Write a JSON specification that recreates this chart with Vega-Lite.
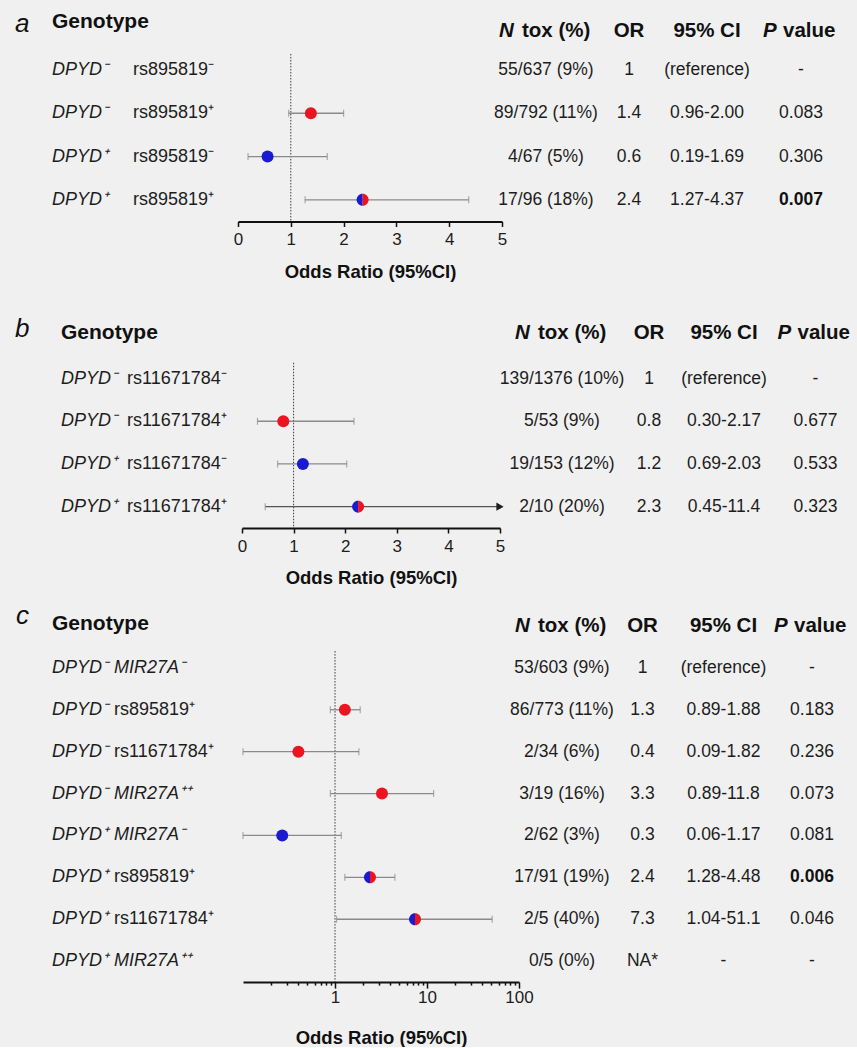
{
  "$schema": "https://vega.github.io/schema/vega-lite/v6.json",
  "background": "#f0f0f0",
  "padding": {"left": 14, "top": 5, "right": 0, "bottom": 0},
  "config": {
    "view": {"stroke": null},
    "font": "Liberation Sans",
    "axis": {"labelFont": "Liberation Sans", "titleFont": "Liberation Sans", "grid": false, "labelFlush": false, "labelOverlap": false, "domainColor": "#111111", "domainWidth": 2, "tickColor": "#111111", "tickWidth": 1.5, "tickSize": 5, "labelFontSize": 17, "labelColor": "#1d1d1d", "titleFontSize": 18.5, "titleFontWeight": "bold", "titleColor": "#111111"}
  },
  "datasets": {
    "a": [
      {"row": 0, "letter": "a", "g1": "Genotype", "nlab": "N", "ntox": "tox (%)", "or": "OR", "ci": "95% CI", "plab": "P", "p": "value", "carrier": "header"},
      {"row": 1, "g1": "DPYD\u207b", "g2": "rs895819\u207b", "ntox": "55/637 (9%)", "or": "1", "ci": "(reference)", "p": "-", "carrier": "reference"},
      {"row": 2, "g1": "DPYD\u207b", "g2": "rs895819\u207a", "ntox": "89/792 (11%)", "or": "1.4", "ci": "0.96-2.00", "p": "0.083", "est": 1.38, "lo": 0.96, "hi": 2.0, "carrier": "other variant"},
      {"row": 3, "g1": "DPYD\u207a", "g2": "rs895819\u207b", "ntox": "4/67 (5%)", "or": "0.6", "ci": "0.19-1.69", "p": "0.306", "est": 0.56, "lo": 0.19, "hi": 1.69, "carrier": "DPYD variant"},
      {"row": 4, "g1": "DPYD\u207a", "g2": "rs895819\u207a", "ntox": "17/96 (18%)", "or": "2.4", "ci": "1.27-4.37", "p": "0.007", "est": 2.36, "lo": 1.27, "hi": 4.37, "carrier": "both"}
    ],
    "b": [
      {"row": 0, "letter": "b", "g1": "Genotype", "nlab": "N", "ntox": "tox (%)", "or": "OR", "ci": "95% CI", "plab": "P", "p": "value", "carrier": "header"},
      {"row": 1, "g1": "DPYD\u207b", "g2": "rs11671784\u207b", "ntox": "139/1376 (10%)", "or": "1", "ci": "(reference)", "p": "-", "carrier": "reference"},
      {"row": 2, "g1": "DPYD\u207b", "g2": "rs11671784\u207a", "ntox": "5/53 (9%)", "or": "0.8", "ci": "0.30-2.17", "p": "0.677", "est": 0.8, "lo": 0.3, "hi": 2.17, "carrier": "other variant"},
      {"row": 3, "g1": "DPYD\u207a", "g2": "rs11671784\u207b", "ntox": "19/153 (12%)", "or": "1.2", "ci": "0.69-2.03", "p": "0.533", "est": 1.18, "lo": 0.69, "hi": 2.03, "carrier": "DPYD variant"},
      {"row": 4, "g1": "DPYD\u207a", "g2": "rs11671784\u207a", "ntox": "2/10 (20%)", "or": "2.3", "ci": "0.45-11.4", "p": "0.323", "est": 2.25, "lo": 0.45, "hi": 11.4, "carrier": "both"}
    ],
    "c": [
      {"row": 0, "letter": "c", "g1": "Genotype", "nlab": "N", "ntox": "tox (%)", "or": "OR", "ci": "95% CI", "plab": "P", "p": "value", "carrier": "header"},
      {"row": 1, "g1": "DPYD\u207b", "g2": "MIR27A\u207b", "ntox": "53/603 (9%)", "or": "1", "ci": "(reference)", "p": "-", "carrier": "reference"},
      {"row": 2, "g1": "DPYD\u207b", "g2": "rs895819\u207a", "ntox": "86/773 (11%)", "or": "1.3", "ci": "0.89-1.88", "p": "0.183", "est": 1.28, "lo": 0.89, "hi": 1.88, "carrier": "other variant"},
      {"row": 3, "g1": "DPYD\u207b", "g2": "rs11671784\u207a", "ntox": "2/34 (6%)", "or": "0.4", "ci": "0.09-1.82", "p": "0.236", "est": 0.4, "lo": 0.09, "hi": 1.82, "carrier": "other variant"},
      {"row": 4, "g1": "DPYD\u207b", "g2": "MIR27A\u207a\u207a", "ntox": "3/19 (16%)", "or": "3.3", "ci": "0.89-11.8", "p": "0.073", "est": 3.24, "lo": 0.89, "hi": 11.8, "carrier": "other variant"},
      {"row": 5, "g1": "DPYD\u207a", "g2": "MIR27A\u207b", "ntox": "2/62 (3%)", "or": "0.3", "ci": "0.06-1.17", "p": "0.081", "est": 0.267, "lo": 0.06, "hi": 1.17, "carrier": "DPYD variant"},
      {"row": 6, "g1": "DPYD\u207a", "g2": "rs895819\u207a", "ntox": "17/91 (19%)", "or": "2.4", "ci": "1.28-4.48", "p": "0.006", "est": 2.4, "lo": 1.28, "hi": 4.48, "carrier": "both"},
      {"row": 7, "g1": "DPYD\u207a", "g2": "rs11671784\u207a", "ntox": "2/5 (40%)", "or": "7.3", "ci": "1.04-51.1", "p": "0.046", "est": 7.41, "lo": 1.04, "hi": 51.1, "carrier": "both"},
      {"row": 8, "g1": "DPYD\u207a", "g2": "MIR27A\u207a\u207a", "ntox": "0/5 (0%)", "or": "NA*", "ci": "-", "p": "-", "carrier": "none"}
    ]
  },
  "spacing": 14,
  "vconcat": [
    {
      "spacing": 33.5,
      "vconcat": [
        {
          "bounds": "flush",
          "spacing": 0,
          "hconcat": [
            {
              "width": 223, "height": 216.5,
              "data": {"name": "a"},
              "encoding": {"y": {"field": "row", "type": "quantitative", "scale": {"domain": [-0.5, 4.5], "reverse": true, "nice": false, "zero": false}, "axis": null}},
              "layer": [
                {"transform": [{"filter": "datum.row > 0"}],
                 "mark": {"type": "text", "align": "left", "fontStyle": "italic", "fontSize": 18, "color": "#1d1d1d"},
                 "encoding": {"x": {"datum": "g1", "type": "nominal", "scale": {"type": "point", "domain": ["g1", "g2", "end"], "padding": 0.3765, "align": 0.6066}, "axis": null}, "text": {"field": "g1"}}},
                {"transform": [{"filter": "datum.row > 0 && indexof(datum.g2, 'MIR') === 0"}],
                 "mark": {"type": "text", "align": "left", "fontStyle": "italic", "fontSize": 18, "color": "#1d1d1d"},
                 "encoding": {"x": {"datum": "g2", "type": "nominal"}, "text": {"field": "g2"}}},
                {"transform": [{"filter": "datum.row > 0 && indexof(datum.g2, 'MIR') !== 0"}],
                 "mark": {"type": "text", "align": "left", "fontSize": 18, "color": "#1d1d1d"},
                 "encoding": {"x": {"datum": "g2", "type": "nominal"}, "text": {"field": "g2"}}},
                {"transform": [{"filter": "datum.row === 0"}],
                 "mark": {"type": "text", "align": "left", "fontWeight": "bold", "fontSize": 21, "dy": -4.5, "color": "#111111"},
                 "encoding": {"x": {"datum": "g1", "type": "nominal"}, "text": {"field": "g1"}}},
                {"transform": [{"filter": "datum.row === 0"}],
                 "mark": {"type": "text", "align": "left", "fontStyle": "italic", "fontSize": 26, "dx": -37, "dy": -2.5, "color": "#111111"},
                 "encoding": {"x": {"datum": "g1", "type": "nominal"}, "text": {"field": "letter"}}}
              ]
            },
            {
              "width": 264, "height": 216.5,
              "data": {"name": "a"},
              "encoding": {"y": {"field": "row", "type": "quantitative", "scale": {"domain": [-0.5, 4.5], "reverse": true, "nice": false, "zero": false}, "axis": null}},
              "layer": [
                {"transform": [{"filter": "datum.row === 0"}],
                 "mark": {"type": "rule", "color": "#3a3a3a", "strokeWidth": 1, "strokeDash": [1.5, 1.5]},
                 "encoding": {
                   "x": {"datum": 1, "type": "quantitative", "scale": {"domain": [0, 5], "nice": false, "zero": false, "clamp": true},
                         "axis": {"values": [0, 1, 2, 3, 4, 5], "format": "d", "title": "Odds Ratio (95%CI)", "labelPadding": 5, "titlePadding": 14.6}},
                   "y": {"datum": 0.63, "type": "quantitative"}, "y2": {"datum": 4.5}}},
                {"transform": [{"filter": "isValid(datum.lo)"}],
                 "mark": {"type": "rule", "color": "#8a8a8a", "strokeWidth": 1.3},
                 "encoding": {"x": {"field": "lo", "type": "quantitative"}, "x2": {"field": "hi"}}},
                {"transform": [{"filter": "isValid(datum.lo)"}],
                 "mark": {"type": "tick", "orient": "vertical", "size": 7, "thickness": 1.2, "color": "#8a8a8a"},
                 "encoding": {"x": {"field": "lo", "type": "quantitative"}}},
                {"transform": [{"filter": "isValid(datum.hi) && datum.hi <= 5"}],
                 "mark": {"type": "tick", "orient": "vertical", "size": 7, "thickness": 1.2, "color": "#8a8a8a"},
                 "encoding": {"x": {"field": "hi", "type": "quantitative"}}},
                {"transform": [{"filter": "datum.carrier === 'DPYD variant' || datum.carrier === 'other variant'"}],
                 "mark": {"type": "point", "filled": true, "shape": "circle", "size": 144, "opacity": 1},
                 "encoding": {"x": {"field": "est", "type": "quantitative"},
                              "color": {"field": "carrier", "type": "nominal", "scale": {"domain": ["DPYD variant", "other variant"], "range": ["#1a1ad0", "#ec1420"]}, "legend": null}}},
                {"transform": [{"filter": "datum.carrier === 'both'"}],
                 "mark": {"type": "point", "filled": true, "shape": "M0,-1A1,1,0,0,0,0,1Z", "size": 144, "opacity": 1, "color": "#1a1ad0"},
                 "encoding": {"x": {"field": "est", "type": "quantitative"}}},
                {"transform": [{"filter": "datum.carrier === 'both'"}],
                 "mark": {"type": "point", "filled": true, "shape": "M0,-1A1,1,0,0,1,0,1Z", "size": 144, "opacity": 1, "color": "#ec1420"},
                 "encoding": {"x": {"field": "est", "type": "quantitative"}}}
              ]
            },
            {
              "width": 88, "height": 216.5,
              "data": {"name": "a"},
              "encoding": {"y": {"field": "row", "type": "quantitative", "scale": {"domain": [-0.5, 4.5], "reverse": true, "nice": false, "zero": false}, "axis": null}},
              "layer": [
                {"transform": [{"filter": "datum.row > 0"}],
                 "mark": {"type": "text", "fontSize": 17.5, "color": "#1d1d1d"}, "encoding": {"text": {"field": "ntox"}}},
                {"transform": [{"filter": "datum.row === 0"}],
                 "mark": {"type": "text", "align": "left", "fontSize": 20.5, "fontWeight": "bold", "fontStyle": "italic", "dx": -47, "dy": 4.5, "color": "#111111"},
                 "encoding": {"text": {"field": "nlab"}}},
                {"transform": [{"filter": "datum.row === 0"}],
                 "mark": {"type": "text", "align": "left", "fontSize": 20.5, "fontWeight": "bold", "dx": -24, "dy": 4.5, "color": "#111111"},
                 "encoding": {"text": {"field": "ntox"}}}
              ]
            },
            {
              "width": 78, "height": 216.5,
              "data": {"name": "a"},
              "encoding": {"y": {"field": "row", "type": "quantitative", "scale": {"domain": [-0.5, 4.5], "reverse": true, "nice": false, "zero": false}, "axis": null}},
              "layer": [
                {"transform": [{"filter": "datum.row > 0"}],
                 "mark": {"type": "text", "fontSize": 17.5, "color": "#1d1d1d"}, "encoding": {"text": {"field": "or"}}},
                {"transform": [{"filter": "datum.row === 0"}],
                 "mark": {"type": "text", "fontSize": 20.5, "fontWeight": "bold", "dy": 4.5, "color": "#111111"},
                 "encoding": {"text": {"field": "or"}}}
              ]
            },
            {
              "width": 78, "height": 216.5,
              "data": {"name": "a"},
              "encoding": {"y": {"field": "row", "type": "quantitative", "scale": {"domain": [-0.5, 4.5], "reverse": true, "nice": false, "zero": false}, "axis": null}},
              "layer": [
                {"transform": [{"filter": "datum.row > 0"}],
                 "mark": {"type": "text", "fontSize": 17.5, "color": "#1d1d1d"}, "encoding": {"text": {"field": "ci"}}},
                {"transform": [{"filter": "datum.row === 0"}],
                 "mark": {"type": "text", "fontSize": 20.5, "fontWeight": "bold", "dy": 4.5, "color": "#111111"},
                 "encoding": {"text": {"field": "ci"}}}
              ]
            },
            {
              "width": 110, "height": 216.5,
              "data": {"name": "a"},
              "encoding": {"y": {"field": "row", "type": "quantitative", "scale": {"domain": [-0.5, 4.5], "reverse": true, "nice": false, "zero": false}, "axis": null}},
              "layer": [
                {"transform": [{"filter": "datum.row > 0 && !(toNumber(datum.p) < 0.01)"}],
                 "mark": {"type": "text", "fontSize": 17.5, "color": "#1d1d1d"}, "encoding": {"text": {"field": "p"}}},
                {"transform": [{"filter": "datum.row > 0 && toNumber(datum.p) < 0.01"}],
                 "mark": {"type": "text", "fontSize": 17.5, "fontWeight": "bold", "color": "#111111"}, "encoding": {"text": {"field": "p"}}},
                {"transform": [{"filter": "datum.row === 0"}],
                 "mark": {"type": "text", "align": "left", "fontSize": 20.5, "fontWeight": "bold", "fontStyle": "italic", "dx": -38, "dy": 4.5, "color": "#111111"},
                 "encoding": {"text": {"field": "plab"}}},
                {"transform": [{"filter": "datum.row === 0"}],
                 "mark": {"type": "text", "align": "left", "fontSize": 20.5, "fontWeight": "bold", "dx": -18, "dy": 4.5, "color": "#111111"},
                 "encoding": {"text": {"field": "p"}}}
              ]
            }
          ]
        },
        {
          "bounds": "flush",
          "spacing": 0,
          "hconcat": [
            {
              "width": 227, "height": 213.5,
              "data": {"name": "b"},
              "encoding": {"y": {"field": "row", "type": "quantitative", "scale": {"domain": [-0.5, 4.5], "reverse": true, "nice": false, "zero": false}, "axis": null}},
              "layer": [
                {"transform": [{"filter": "datum.row > 0"}],
                 "mark": {"type": "text", "align": "left", "fontStyle": "italic", "fontSize": 18, "color": "#1d1d1d"},
                 "encoding": {"x": {"datum": "g1", "type": "nominal", "scale": {"type": "point", "domain": ["g1", "g2", "end"], "padding": 0.7197, "align": 0.4842}, "axis": null}, "text": {"field": "g1"}}},
                {"transform": [{"filter": "datum.row > 0 && indexof(datum.g2, 'MIR') === 0"}],
                 "mark": {"type": "text", "align": "left", "fontStyle": "italic", "fontSize": 18, "color": "#1d1d1d"},
                 "encoding": {"x": {"datum": "g2", "type": "nominal"}, "text": {"field": "g2"}}},
                {"transform": [{"filter": "datum.row > 0 && indexof(datum.g2, 'MIR') !== 0"}],
                 "mark": {"type": "text", "align": "left", "fontSize": 18, "color": "#1d1d1d"},
                 "encoding": {"x": {"datum": "g2", "type": "nominal"}, "text": {"field": "g2"}}},
                {"transform": [{"filter": "datum.row === 0"}],
                 "mark": {"type": "text", "align": "left", "fontWeight": "bold", "fontSize": 21, "dy": -3, "color": "#111111"},
                 "encoding": {"x": {"datum": "g1", "type": "nominal"}, "text": {"field": "g1"}}},
                {"transform": [{"filter": "datum.row === 0"}],
                 "mark": {"type": "text", "align": "left", "fontStyle": "italic", "fontSize": 26, "dx": -46, "dy": -7, "color": "#111111"},
                 "encoding": {"x": {"datum": "g1", "type": "nominal"}, "text": {"field": "letter"}}}
              ]
            },
            {
              "width": 258, "height": 213.5,
              "data": {"name": "b"},
              "encoding": {"y": {"field": "row", "type": "quantitative", "scale": {"domain": [-0.5, 4.5], "reverse": true, "nice": false, "zero": false}, "axis": null}},
              "layer": [
                {"transform": [{"filter": "datum.row === 0"}],
                 "mark": {"type": "rule", "color": "#3a3a3a", "strokeWidth": 1, "strokeDash": [1.5, 1.5]},
                 "encoding": {
                   "x": {"datum": 1, "type": "quantitative", "scale": {"domain": [0, 5], "nice": false, "zero": false, "clamp": true},
                         "axis": {"values": [0, 1, 2, 3, 4, 5], "format": "d", "title": "Odds Ratio (95%CI)", "labelPadding": 5, "titlePadding": 14.6}},
                   "y": {"datum": 0.63, "type": "quantitative"}, "y2": {"datum": 4.5}}},
                {"transform": [{"filter": "isValid(datum.lo) && datum.hi <= 5"}],
                 "mark": {"type": "rule", "color": "#8a8a8a", "strokeWidth": 1.3},
                 "encoding": {"x": {"field": "lo", "type": "quantitative"}, "x2": {"field": "hi"}}},
                {"transform": [{"filter": "isValid(datum.lo) && datum.hi > 5"}],
                 "mark": {"type": "rule", "color": "#555555", "strokeWidth": 1.3},
                 "encoding": {"x": {"field": "lo", "type": "quantitative"}, "x2": {"field": "hi"}}},
                {"transform": [{"filter": "isValid(datum.lo)"}],
                 "mark": {"type": "tick", "orient": "vertical", "size": 7, "thickness": 1.2, "color": "#8a8a8a"},
                 "encoding": {"x": {"field": "lo", "type": "quantitative"}}},
                {"transform": [{"filter": "isValid(datum.hi) && datum.hi <= 5"}],
                 "mark": {"type": "tick", "orient": "vertical", "size": 7, "thickness": 1.2, "color": "#8a8a8a"},
                 "encoding": {"x": {"field": "hi", "type": "quantitative"}}},
                {"transform": [{"filter": "isValid(datum.hi) && datum.hi > 5"}],
                 "mark": {"type": "point", "filled": true, "shape": "triangle-right", "size": 70, "opacity": 1, "color": "#1d1d1d"},
                 "encoding": {"x": {"field": "hi", "type": "quantitative"}}},
                {"transform": [{"filter": "datum.carrier === 'DPYD variant' || datum.carrier === 'other variant'"}],
                 "mark": {"type": "point", "filled": true, "shape": "circle", "size": 144, "opacity": 1},
                 "encoding": {"x": {"field": "est", "type": "quantitative"},
                              "color": {"field": "carrier", "type": "nominal", "scale": {"domain": ["DPYD variant", "other variant"], "range": ["#1a1ad0", "#ec1420"]}, "legend": null}}},
                {"transform": [{"filter": "datum.carrier === 'both'"}],
                 "mark": {"type": "point", "filled": true, "shape": "M0,-1A1,1,0,0,0,0,1Z", "size": 144, "opacity": 1, "color": "#1a1ad0"},
                 "encoding": {"x": {"field": "est", "type": "quantitative"}}},
                {"transform": [{"filter": "datum.carrier === 'both'"}],
                 "mark": {"type": "point", "filled": true, "shape": "M0,-1A1,1,0,0,1,0,1Z", "size": 144, "opacity": 1, "color": "#ec1420"},
                 "encoding": {"x": {"field": "est", "type": "quantitative"}}}
              ]
            },
            {
              "width": 124, "height": 213.5,
              "data": {"name": "b"},
              "encoding": {"y": {"field": "row", "type": "quantitative", "scale": {"domain": [-0.5, 4.5], "reverse": true, "nice": false, "zero": false}, "axis": null}},
              "layer": [
                {"transform": [{"filter": "datum.row > 0"}],
                 "mark": {"type": "text", "fontSize": 17.5, "color": "#1d1d1d"}, "encoding": {"text": {"field": "ntox"}}},
                {"transform": [{"filter": "datum.row === 0"}],
                 "mark": {"type": "text", "align": "left", "fontSize": 20.5, "fontWeight": "bold", "fontStyle": "italic", "dx": -47, "dy": -3, "color": "#111111"},
                 "encoding": {"text": {"field": "nlab"}}},
                {"transform": [{"filter": "datum.row === 0"}],
                 "mark": {"type": "text", "align": "left", "fontSize": 20.5, "fontWeight": "bold", "dx": -24, "dy": -3, "color": "#111111"},
                 "encoding": {"text": {"field": "ntox"}}}
              ]
            },
            {
              "width": 50, "height": 213.5,
              "data": {"name": "b"},
              "encoding": {"y": {"field": "row", "type": "quantitative", "scale": {"domain": [-0.5, 4.5], "reverse": true, "nice": false, "zero": false}, "axis": null}},
              "layer": [
                {"transform": [{"filter": "datum.row > 0"}],
                 "mark": {"type": "text", "fontSize": 17.5, "color": "#1d1d1d"}, "encoding": {"text": {"field": "or"}}},
                {"transform": [{"filter": "datum.row === 0"}],
                 "mark": {"type": "text", "fontSize": 20.5, "fontWeight": "bold", "dy": -3, "color": "#111111"},
                 "encoding": {"text": {"field": "or"}}}
              ]
            },
            {
              "width": 100, "height": 213.5,
              "data": {"name": "b"},
              "encoding": {"y": {"field": "row", "type": "quantitative", "scale": {"domain": [-0.5, 4.5], "reverse": true, "nice": false, "zero": false}, "axis": null}},
              "layer": [
                {"transform": [{"filter": "datum.row > 0"}],
                 "mark": {"type": "text", "fontSize": 17.5, "color": "#1d1d1d"}, "encoding": {"text": {"field": "ci"}}},
                {"transform": [{"filter": "datum.row === 0"}],
                 "mark": {"type": "text", "fontSize": 20.5, "fontWeight": "bold", "dy": -3, "color": "#111111"},
                 "encoding": {"text": {"field": "ci"}}}
              ]
            },
            {
              "width": 83, "height": 213.5,
              "data": {"name": "b"},
              "encoding": {"y": {"field": "row", "type": "quantitative", "scale": {"domain": [-0.5, 4.5], "reverse": true, "nice": false, "zero": false}, "axis": null}},
              "layer": [
                {"transform": [{"filter": "datum.row > 0 && !(toNumber(datum.p) < 0.01)"}],
                 "mark": {"type": "text", "fontSize": 17.5, "color": "#1d1d1d"}, "encoding": {"text": {"field": "p"}}},
                {"transform": [{"filter": "datum.row > 0 && toNumber(datum.p) < 0.01"}],
                 "mark": {"type": "text", "fontSize": 17.5, "fontWeight": "bold", "color": "#111111"}, "encoding": {"text": {"field": "p"}}},
                {"transform": [{"filter": "datum.row === 0"}],
                 "mark": {"type": "text", "align": "left", "fontSize": 20.5, "fontWeight": "bold", "fontStyle": "italic", "dx": -38, "dy": -3, "color": "#111111"},
                 "encoding": {"text": {"field": "plab"}}},
                {"transform": [{"filter": "datum.row === 0"}],
                 "mark": {"type": "text", "align": "left", "fontSize": 20.5, "fontWeight": "bold", "dx": -18, "dy": -3, "color": "#111111"},
                 "encoding": {"text": {"field": "p"}}}
              ]
            }
          ]
        }
      ]
    },
    {
      "bounds": "flush",
      "spacing": 0,
      "hconcat": [
        {
          "width": 228, "height": 377.1,
          "data": {"name": "c"},
          "encoding": {"y": {"field": "row", "type": "quantitative", "scale": {"domain": [-0.5, 8.5], "reverse": true, "nice": false, "zero": false}, "axis": null}},
          "layer": [
            {"transform": [{"filter": "datum.row > 0"}],
             "mark": {"type": "text", "align": "left", "fontStyle": "italic", "fontSize": 18, "color": "#1d1d1d"},
             "encoding": {"x": {"datum": "g1", "type": "nominal", "scale": {"type": "point", "domain": ["g1", "g2", "end"], "padding": 0.8387, "align": 0.3558}, "axis": null}, "text": {"field": "g1"}}},
            {"transform": [{"filter": "datum.row > 0 && indexof(datum.g2, 'MIR') === 0"}],
             "mark": {"type": "text", "align": "left", "fontStyle": "italic", "fontSize": 18, "color": "#1d1d1d"},
             "encoding": {"x": {"datum": "g2", "type": "nominal"}, "text": {"field": "g2"}}},
            {"transform": [{"filter": "datum.row > 0 && indexof(datum.g2, 'MIR') !== 0"}],
             "mark": {"type": "text", "align": "left", "fontSize": 18, "color": "#1d1d1d"},
             "encoding": {"x": {"datum": "g2", "type": "nominal"}, "text": {"field": "g2"}}},
            {"transform": [{"filter": "datum.row === 0"}],
             "mark": {"type": "text", "align": "left", "fontWeight": "bold", "fontSize": 21, "dy": -2, "color": "#111111"},
             "encoding": {"x": {"datum": "g1", "type": "nominal"}, "text": {"field": "g1"}}},
            {"transform": [{"filter": "datum.row === 0"}],
             "mark": {"type": "text", "align": "left", "fontStyle": "italic", "fontSize": 26, "dx": -36, "dy": -10, "color": "#111111"},
             "encoding": {"x": {"datum": "g1", "type": "nominal"}, "text": {"field": "letter"}}}
          ]
        },
        {
          "width": 276, "height": 377.1,
          "data": {"name": "c"},
          "encoding": {"y": {"field": "row", "type": "quantitative", "scale": {"domain": [-0.5, 8.5], "reverse": true, "nice": false, "zero": false}, "axis": null}},
          "layer": [
            {"transform": [{"filter": "datum.row === 0"}],
             "mark": {"type": "rule", "color": "#3a3a3a", "strokeWidth": 1, "strokeDash": [1.5, 1.5]},
             "encoding": {
               "x": {"datum": 1, "type": "quantitative", "scale": {"type": "log", "domain": [0.1, 100], "nice": false, "clamp": true},
                     "axis": {"values": [0.2, 0.3, 0.4, 0.5, 0.6, 0.7, 0.8, 0.9, 1, 2, 3, 4, 5, 6, 7, 8, 9, 10, 20, 30, 40, 50, 60, 70, 80, 90, 100],
                              "labelExpr": "datum.value == 1 || datum.value == 10 || datum.value == 100 ? format(datum.value, 'd') : ''",
                              "tickSize": {"condition": {"test": "datum.value == 1 || datum.value == 10 || datum.value == 100", "value": 6}, "value": 3},
                              "title": "Odds Ratio (95%CI)", "labelPadding": 1, "titlePadding": 23}},
               "y": {"datum": 0.6, "type": "quantitative"}, "y2": {"datum": 8.5}}},
            {"transform": [{"filter": "isValid(datum.lo)"}],
             "mark": {"type": "rule", "color": "#8a8a8a", "strokeWidth": 1.3},
             "encoding": {"x": {"field": "lo", "type": "quantitative"}, "x2": {"field": "hi"}}},
            {"transform": [{"filter": "isValid(datum.lo)"}],
             "mark": {"type": "tick", "orient": "vertical", "size": 7, "thickness": 1.2, "color": "#8a8a8a"},
             "encoding": {"x": {"field": "lo", "type": "quantitative"}}},
            {"transform": [{"filter": "isValid(datum.hi) && datum.hi <= 100"}],
             "mark": {"type": "tick", "orient": "vertical", "size": 7, "thickness": 1.2, "color": "#8a8a8a"},
             "encoding": {"x": {"field": "hi", "type": "quantitative"}}},
            {"transform": [{"filter": "datum.carrier === 'DPYD variant' || datum.carrier === 'other variant'"}],
             "mark": {"type": "point", "filled": true, "shape": "circle", "size": 144, "opacity": 1},
             "encoding": {"x": {"field": "est", "type": "quantitative"},
                          "color": {"field": "carrier", "type": "nominal", "scale": {"domain": ["DPYD variant", "other variant"], "range": ["#1a1ad0", "#ec1420"]}, "legend": null}}},
            {"transform": [{"filter": "datum.carrier === 'both'"}],
             "mark": {"type": "point", "filled": true, "shape": "M0,-1A1,1,0,0,0,0,1Z", "size": 144, "opacity": 1, "color": "#1a1ad0"},
             "encoding": {"x": {"field": "est", "type": "quantitative"}}},
            {"transform": [{"filter": "datum.carrier === 'both'"}],
             "mark": {"type": "point", "filled": true, "shape": "M0,-1A1,1,0,0,1,0,1Z", "size": 144, "opacity": 1, "color": "#ec1420"},
             "encoding": {"x": {"field": "est", "type": "quantitative"}}}
          ]
        },
        {
          "width": 86, "height": 377.1,
          "data": {"name": "c"},
          "encoding": {"y": {"field": "row", "type": "quantitative", "scale": {"domain": [-0.5, 8.5], "reverse": true, "nice": false, "zero": false}, "axis": null}},
          "layer": [
            {"transform": [{"filter": "datum.row > 0"}],
             "mark": {"type": "text", "fontSize": 17.5, "color": "#1d1d1d"}, "encoding": {"text": {"field": "ntox"}}},
            {"transform": [{"filter": "datum.row === 0"}],
             "mark": {"type": "text", "align": "left", "fontSize": 20.5, "fontWeight": "bold", "fontStyle": "italic", "dx": -47, "dy": 0, "color": "#111111"},
             "encoding": {"text": {"field": "nlab"}}},
            {"transform": [{"filter": "datum.row === 0"}],
             "mark": {"type": "text", "align": "left", "fontSize": 20.5, "fontWeight": "bold", "dx": -24, "dy": 0, "color": "#111111"},
             "encoding": {"text": {"field": "ntox"}}}
          ]
        },
        {
          "width": 75, "height": 377.1,
          "data": {"name": "c"},
          "encoding": {"y": {"field": "row", "type": "quantitative", "scale": {"domain": [-0.5, 8.5], "reverse": true, "nice": false, "zero": false}, "axis": null}},
          "layer": [
            {"transform": [{"filter": "datum.row > 0"}],
             "mark": {"type": "text", "fontSize": 17.5, "color": "#1d1d1d"}, "encoding": {"text": {"field": "or"}}},
            {"transform": [{"filter": "datum.row === 0"}],
             "mark": {"type": "text", "fontSize": 20.5, "fontWeight": "bold", "dy": 0, "color": "#111111"},
             "encoding": {"text": {"field": "or"}}}
          ]
        },
        {
          "width": 87, "height": 377.1,
          "data": {"name": "c"},
          "encoding": {"y": {"field": "row", "type": "quantitative", "scale": {"domain": [-0.5, 8.5], "reverse": true, "nice": false, "zero": false}, "axis": null}},
          "layer": [
            {"transform": [{"filter": "datum.row > 0"}],
             "mark": {"type": "text", "fontSize": 17.5, "color": "#1d1d1d"}, "encoding": {"text": {"field": "ci"}}},
            {"transform": [{"filter": "datum.row === 0"}],
             "mark": {"type": "text", "fontSize": 20.5, "fontWeight": "bold", "dy": 0, "color": "#111111"},
             "encoding": {"text": {"field": "ci"}}}
          ]
        },
        {
          "width": 90, "height": 377.1,
          "data": {"name": "c"},
          "encoding": {"y": {"field": "row", "type": "quantitative", "scale": {"domain": [-0.5, 8.5], "reverse": true, "nice": false, "zero": false}, "axis": null}},
          "layer": [
            {"transform": [{"filter": "datum.row > 0 && !(toNumber(datum.p) < 0.01)"}],
             "mark": {"type": "text", "fontSize": 17.5, "color": "#1d1d1d"}, "encoding": {"text": {"field": "p"}}},
            {"transform": [{"filter": "datum.row > 0 && toNumber(datum.p) < 0.01"}],
             "mark": {"type": "text", "fontSize": 17.5, "fontWeight": "bold", "color": "#111111"}, "encoding": {"text": {"field": "p"}}},
            {"transform": [{"filter": "datum.row === 0"}],
             "mark": {"type": "text", "align": "left", "fontSize": 20.5, "fontWeight": "bold", "fontStyle": "italic", "dx": -38, "dy": 0, "color": "#111111"},
             "encoding": {"text": {"field": "plab"}}},
            {"transform": [{"filter": "datum.row === 0"}],
             "mark": {"type": "text", "align": "left", "fontSize": 20.5, "fontWeight": "bold", "dx": -18, "dy": 0, "color": "#111111"},
             "encoding": {"text": {"field": "p"}}}
          ]
        }
      ]
    }
  ]
}
